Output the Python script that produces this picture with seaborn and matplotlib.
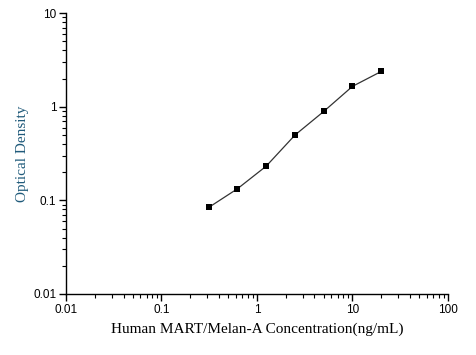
import matplotlib
matplotlib.use("Agg")
import matplotlib.pyplot as plt
import seaborn as sns
import pandas as pd
from matplotlib.ticker import LogLocator, FixedLocator, FixedFormatter, NullFormatter

concentration = [0.3125, 0.625, 1.25, 2.5, 5, 10, 20]
optical_density = [0.084, 0.133, 0.232, 0.498, 0.89, 1.65, 2.38]
x_tick_labels = ["0.01", "0.1", "1", "10", "100"]
y_tick_labels = ["0.01", "0.1", "1", "10"]

sns.set_style("ticks")
plt.rcParams["font.family"] = ["Liberation Sans", "DejaVu Sans"]

df = pd.DataFrame({"conc": concentration, "od": optical_density})

fig = plt.figure(figsize=(4.76, 3.55), dpi=100)
ax = fig.add_axes([0.1387, 0.172, 0.8023, 0.791])

sns.lineplot(data=df, x="conc", y="od", ax=ax, color="#333333", linewidth=0.9,
             marker="s", markersize=5, markerfacecolor="black",
             markeredgecolor="black", markeredgewidth=0)

ax.set_xscale("log")
ax.set_yscale("log")
ax.set_xlim(0.01, 100)
ax.set_ylim(0.01, 10)

xt = [float(v) for v in x_tick_labels]
yt = [float(v) for v in y_tick_labels]
ax.xaxis.set_major_locator(FixedLocator(xt))
ax.xaxis.set_major_formatter(FixedFormatter(x_tick_labels))
ax.yaxis.set_major_locator(FixedLocator(yt))
ax.yaxis.set_major_formatter(FixedFormatter(y_tick_labels))
ax.xaxis.set_minor_locator(LogLocator(base=10, subs=range(2, 10), numticks=20))
ax.yaxis.set_minor_locator(LogLocator(base=10, subs=range(2, 10), numticks=20))
ax.xaxis.set_minor_formatter(NullFormatter())
ax.yaxis.set_minor_formatter(NullFormatter())

ax.tick_params(axis="both", which="major", direction="out", length=5, width=1,
               labelsize=8.5, color="black", labelcolor="black", pad=2)
ax.tick_params(axis="both", which="minor", direction="out", length=3, width=0.8,
               color="black")

for s in ["top", "right"]:
    ax.spines[s].set_visible(False)
for s in ["left", "bottom"]:
    ax.spines[s].set_color("black")
    ax.spines[s].set_linewidth(1)

ax.set_xlabel("Human MART/Melan-A Concentration(ng/mL)", family=["Liberation Serif", "DejaVu Serif"],
              fontsize=11, color="black", labelpad=5)
ax.set_ylabel("Optical Density", family=["Liberation Serif", "DejaVu Serif"],
              fontsize=11, color="#1f5a7a", labelpad=3)

fig.savefig("out.png", dpi=100)
